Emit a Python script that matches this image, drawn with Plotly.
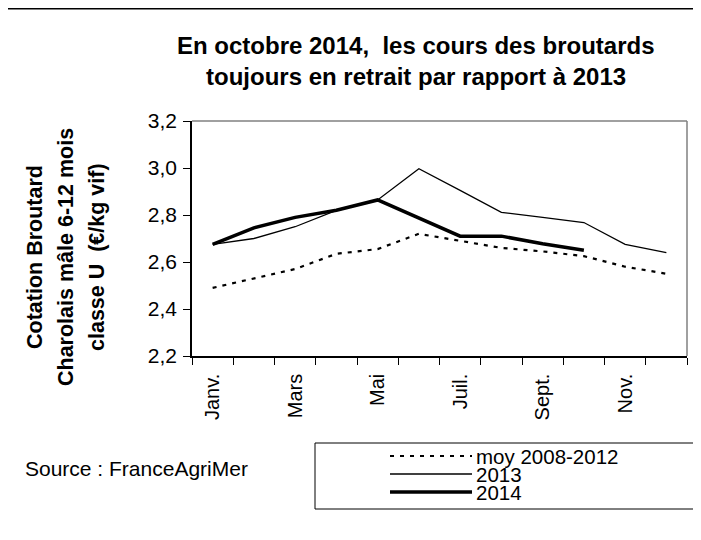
import plotly.graph_objects as go

months = ["Janv.", "Févr.", "Mars", "Avr.", "Mai", "Juin",
          "Juil.", "Août", "Sept.", "Oct.", "Nov.", "Déc."]
tick_labels = ["Janv.", "", "Mars", "", "Mai", "", "Juil.", "", "Sept.", "", "Nov.", ""]

moy_2008_2012 = [2.49, 2.53, 2.57, 2.635, 2.655, 2.72, 2.69, 2.66, 2.645, 2.625, 2.58, 2.55]
y2013 = [2.675, 2.70, 2.75, 2.82, 2.864, 2.997, 2.905, 2.811, 2.79, 2.768, 2.675, 2.64]
y2014 = [2.675, 2.745, 2.79, 2.82, 2.864, 2.785, 2.71, 2.71, 2.678, 2.65]

series_names = ["moy 2008-2012", "2013", "2014"]

FONT = "Liberation Sans, Arial, sans-serif"

fig = go.Figure()
fig.add_trace(go.Scatter(x=months, y=moy_2008_2012, mode="lines", name=series_names[0],
                         line=dict(color="black", width=2.2, dash="4px,6px")))
fig.add_trace(go.Scatter(x=months, y=y2013, mode="lines", name=series_names[1],
                         line=dict(color="black", width=1.3)))
fig.add_trace(go.Scatter(x=months[:len(y2014)], y=y2014, mode="lines", name=series_names[2],
                         line=dict(color="black", width=3.5)))

# page body has an 8px margin: figure coords = reference coords - 8
fig.update_layout(
    width=701, height=540,
    margin=dict(l=184, r=22, t=113, b=192),
    paper_bgcolor="white", plot_bgcolor="white",
    showlegend=False,
    separators=", ",
    font=dict(family=FONT, color="black", size=20),
)

fig.update_xaxes(
    type="category", categoryorder="array", categoryarray=months,
    range=[-0.5, 11.5],
    tickmode="array", tickvals=months, ticktext=tick_labels,
    tickson="boundaries", ticks="outside", ticklen=7, tickcolor="black", tickwidth=1,
    tickangle=-90, tickfont=dict(size=20, family=FONT), ticklabelstandoff=8,
    showline=True, linecolor="black", linewidth=1.5, showgrid=False, zeroline=False,
)
fig.update_yaxes(
    range=[2.2, 3.2], dtick=0.2, tick0=2.2, tickformat=".1f",
    ticks="outside", ticklen=7, tickcolor="black", tickwidth=1,
    tickfont=dict(size=21, family=FONT), ticklabelstandoff=2,
    showline=True, linecolor="black", linewidth=1.5, showgrid=False, zeroline=False,
)

# plot-area border (top and right, grey)
fig.add_shape(type="line", xref="paper", yref="paper", x0=0, x1=1, y0=1, y1=1,
              line=dict(color="#808080", width=1.5))
fig.add_shape(type="line", xref="paper", yref="paper", x0=1, x1=1, y0=0, y1=1,
              line=dict(color="#808080", width=1.5))

# helpers: reference pixel -> paper coords
def px(x): return (x - 192) / (687 - 192)
def py(y): return (356 - y) / (356 - 121)

# outer chart frame
fig.add_shape(type="rect", xref="paper", yref="paper",
              x0=px(7), x1=px(700), y0=py(560), y1=py(8.5),
              line=dict(color="black", width=2), fillcolor="rgba(0,0,0,0)")

# title
for txt, ty in [("En octobre 2014,\u00a0 les cours des broutards", 45),
                ("toujours en retrait par rapport à 2013", 76)]:
    fig.add_annotation(text="<b>" + txt + "</b>", xref="paper", yref="paper",
                       x=px(416), y=py(ty), xanchor="center", yanchor="middle",
                       showarrow=False, font=dict(size=24, family=FONT))

# y-axis title (three lines)
ytitle = ["Cotation Broutard", "Charolais mâle 6-12 mois", "classe U\u00a0 (€/kg vif)"]
for t, xc in zip(ytitle, [35, 66, 97]):
    fig.add_annotation(text="<b>" + t + "</b>", xref="paper", yref="paper",
                       x=px(xc), y=py(257), xanchor="center", yanchor="middle",
                       textangle=-90, showarrow=False,
                       font=dict(size=21.5, family=FONT))

# source
fig.add_annotation(text="Source : FranceAgriMer", xref="paper", yref="paper",
                   x=px(23), y=py(468), xanchor="left", yanchor="middle", showarrow=False,
                   font=dict(size=21, family=FONT))

# legend box
fig.add_shape(type="rect", xref="paper", yref="paper",
              x0=px(315), x1=px(697), y0=py(509), y1=py(443),
              line=dict(color="black", width=1), fillcolor="rgba(0,0,0,0)")
leg_y = [456, 474, 492]
leg_styles = [dict(width=2.2, dash="4px,6px"), dict(width=1.3), dict(width=3.5)]
for name, ly, st in zip(series_names, leg_y, leg_styles):
    fig.add_shape(type="line", xref="paper", yref="paper",
                  x0=px(390), x1=px(472), y0=py(ly), y1=py(ly),
                  line=dict(color="black", **st))
    fig.add_annotation(text=name, xref="paper", yref="paper",
                       x=px(474), y=py(ly), xanchor="left", yanchor="middle",
                       showarrow=False, font=dict(size=20.5, family=FONT))

fig.write_html("out.html")
